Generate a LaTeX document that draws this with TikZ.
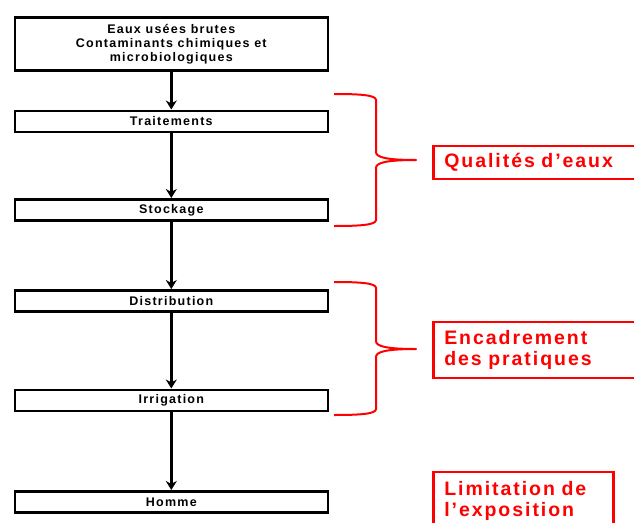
\documentclass[tikz,border=0pt]{standalone}
\usepackage{fontspec}
\setmainfont{Liberation Sans}
\newfontfamily\spacedfont[LetterSpace=10]{Liberation Sans}
\usetikzlibrary{arrows.meta}
\begin{document}
\begin{tikzpicture}[x=1pt,y=-1pt,
  stepbox/.style={draw=black,line width=2.6pt,minimum width=313pt,minimum height=#1,inner sep=0pt,
    font=\spacedfont\fontsize{12.5}{14}\selectfont\bfseries,align=center,anchor=north west},
  stepbox/.default=21pt,
  flow/.style={line width=2.6pt,-{Stealth[length=9pt,width=11pt]}},
  redbox/.style={draw=red,line width=2.6pt,text=red,anchor=north west,inner ysep=0pt,inner xsep=11pt,
    font=\spacedfont\fontsize{19.5}{21}\selectfont\bfseries,align=left},
  brace/.style={draw=red,line width=2pt,line join=round}]
\clip (0,0) rectangle (634,522);
\useasboundingbox (0,0) rectangle (634,522);
% flow boxes
\node[stepbox=53pt] (src) at (13.5,16) {Eaux usées brutes\\Contaminants chimiques et\\microbiologiques};
\node[stepbox] (trt) at (13.5,109.5) {Traitements};
\node[stepbox] (sto) at (13.5,198) {Stockage};
\node[stepbox] (dis) at (13.5,289) {Distribution};
\node[stepbox] (irr) at (13.5,388.5) {Irrigation};
\node[stepbox] (hom) at (13.5,490) {Homme};
\draw[flow] (src) -- (trt);
\draw[flow] (trt) -- (sto);
\draw[flow] (sto) -- (dis);
\draw[flow] (dis) -- (irr);
\draw[flow] (irr) -- (hom);
% braces
\coordinate (b1) at (334,94);
\coordinate (b1tip) at (416,160);
\coordinate (b1end) at (334,226);
\draw[brace] (b1) .. controls (360,94) and (376,95) .. (376,100) -- (376,152)
  .. controls (376,157) and (385,160) .. (b1tip)
  .. controls (385,160) and (376,163) .. (376,168) -- (376,220)
  .. controls (376,225) and (360,226) .. (b1end);
\coordinate (b2) at (334,282);
\coordinate (b2tip) at (416,349);
\coordinate (b2end) at (334,415);
\draw[brace] (b2) .. controls (360,282) and (376,283) .. (376,288) -- (376,341)
  .. controls (376,346) and (385,349) .. (b2tip)
  .. controls (385,349) and (376,352) .. (376,357) -- (376,409)
  .. controls (376,414) and (360,415) .. (b2end);
% red boxes
\node[redbox,minimum width=210pt,minimum height=33pt,text width=188pt] (qual) at (432,144.5) {Qualités d’eaux};
\node[redbox,minimum width=210pt,minimum height=56pt,text width=188pt] (enc) at (432,320.5) {Encadrement\\des pratiques};
\node[redbox,minimum width=180pt,minimum height=58pt,text width=158pt] (lim) at (432,470.5) {Limitation de\\l’exposition};
\end{tikzpicture}
\end{document}
